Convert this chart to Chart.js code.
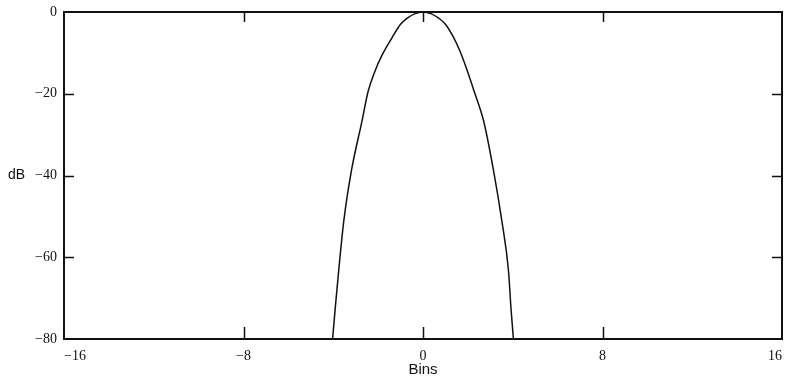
<!DOCTYPE html>
<html>
<head>
<meta charset="utf-8">
<script src="https://cdn.jsdelivr.net/npm/chart.js@4"></script>
<style>
  html, body { margin: 0; padding: 0; background: #fff; }
  #wrap { width: 787px; height: 385px; }
</style>
</head>
<body>
<div id="wrap"><canvas id="lobeChart"></canvas></div>
<script>
// values (bin offset, level in dB)
const bins = [-4.03, -3.91, -3.76, -3.53, -3.19, -2.72, -2.45, -2.15, -1.82, -1.37, -1.0, -0.7, -0.35, 0,
              0.35, 0.7, 1.0, 1.35, 1.65, 1.95, 2.28, 2.70, 3.14, 3.51, 3.81, 3.92, 4.03];
const levels = [-80, -72.4, -63.4, -51.1, -38.8, -26.7, -19.5, -14.6, -10.5, -6.2, -3.0, -1.5, -0.4, 0,
                -0.4, -1.5, -3.0, -6.1, -9.6, -14.0, -19.4, -26.6, -38.7, -51.0, -63.3, -72.4, -80];
const xTicks = [-16, -8, 0, 8, 16];
const yTicks = [0, -20, -40, -60, -80];

const points = bins.map((b, i) => ({ x: b, y: levels[i] }));

// frame, inward tick marks and the horizontal "dB" label
const framePlugin = {
  id: 'frame',
  afterDraw(chart) {
    const { ctx, chartArea: a, scales: { x, y } } = chart;
    ctx.save();
    ctx.strokeStyle = '#111';
    ctx.lineWidth = 2;
    ctx.strokeRect(a.left, a.top, a.right - a.left, a.bottom - a.top);
    ctx.lineWidth = 1.5;
    ctx.beginPath();
    yTicks.slice(1, -1).forEach(v => {
      const py = Math.round(y.getPixelForValue(v)) + 0.5;
      ctx.moveTo(a.left, py); ctx.lineTo(a.left + 10, py);
      ctx.moveTo(a.right, py); ctx.lineTo(a.right - 10, py);
    });
    xTicks.slice(1, -1).forEach(v => {
      const px = Math.round(x.getPixelForValue(v)) + 0.5;
      ctx.moveTo(px, a.top); ctx.lineTo(px, a.top + 10);
      ctx.moveTo(px, a.bottom); ctx.lineTo(px, a.bottom - 12);
    });
    ctx.stroke();
    ctx.fillStyle = '#111';
    ctx.font = '14px "Liberation Sans", Arial, sans-serif';
    ctx.textAlign = 'left';
    ctx.textBaseline = 'middle';
    ctx.fillText('dB', 8, y.getPixelForValue(-40));
    ctx.restore();
  }
};

new Chart(document.getElementById('lobeChart'), {
  type: 'scatter',
  data: {
    datasets: [{
      data: points,
      showLine: true,
      borderColor: '#111',
      borderWidth: 1.5,
      pointRadius: 0,
      cubicInterpolationMode: 'monotone'
    }]
  },
  options: {
    responsive: true,
    maintainAspectRatio: false,
    animation: false,
    layout: { padding: { top: 12, right: 5, left: 0, bottom: 0 } },
    plugins: { legend: { display: false }, tooltip: { enabled: false } },
    scales: {
      x: {
        type: 'linear', min: -16, max: 16,
        afterBuildTicks: s => { s.ticks = xTicks.map(v => ({ value: v })); },
        afterFit: s => { s.height = 46; s.paddingLeft = 0; s.paddingRight = 0; },
        grid: { display: false, drawTicks: false },
        border: { display: false },
        ticks: {
          color: '#111', padding: 9, align: 'inner',
          font: { family: '"Liberation Serif", "Times New Roman", serif', size: 14 },
          callback: v => String(v).replace('-', '\u2212')
        },
        title: {
          display: true, text: 'Bins', color: '#111',
          font: { family: '"Liberation Sans", Arial, sans-serif', size: 15 },
          padding: { top: 2, bottom: 6 }
        }
      },
      y: {
        type: 'linear', min: -80, max: 0,
        afterBuildTicks: s => { s.ticks = yTicks.map(v => ({ value: v })); },
        afterFit: s => { s.width = 64; s.paddingTop = 0; s.paddingBottom = 0; },
        grid: { display: false, drawTicks: false },
        border: { display: false },
        ticks: {
          color: '#111', padding: 7,
          font: { family: '"Liberation Serif", "Times New Roman", serif', size: 14 },
          callback: v => String(v).replace('-', '\u2212')
        }
      }
    }
  },
  plugins: [framePlugin]
});
</script>
</body>
</html>
